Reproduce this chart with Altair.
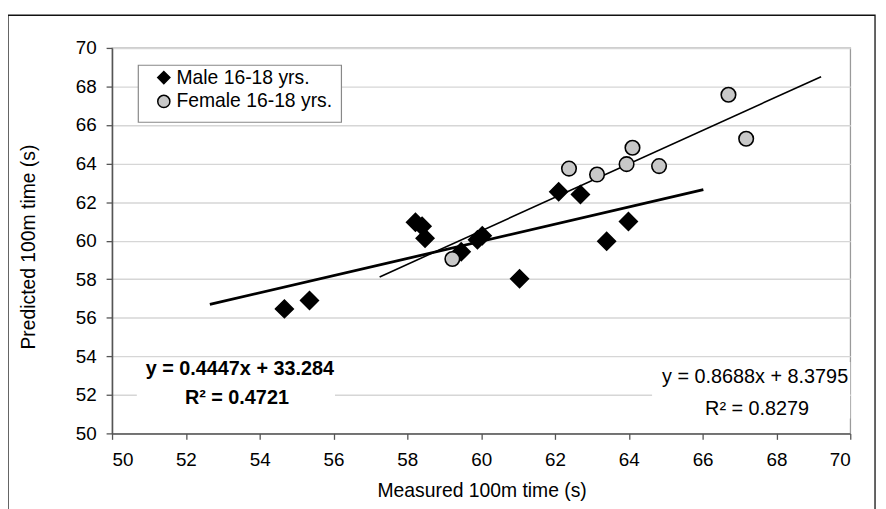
import altair as alt
import pandas as pd

male_label = "Male 16-18 yrs."
female_label = "Female 16-18 yrs."
series_names = [male_label, female_label]

male_x = [54.67, 55.35, 58.22, 58.40, 58.48, 59.46, 59.90, 60.03, 61.04, 62.10, 62.69, 63.40, 63.99]
male_y = [56.46, 56.90, 60.95, 60.75, 60.12, 59.42, 60.05, 60.25, 58.02, 62.54, 62.40, 59.97, 60.99]
female_x = [59.22, 62.38, 63.14, 63.94, 64.10, 64.82, 66.70, 67.18]
female_y = [59.05, 63.74, 63.43, 63.97, 64.82, 63.87, 67.57, 65.29]

trend_slope = [0.4447, 0.8688]
trend_intercept = [33.284, 8.3795]
trend_x_start = [52.65, 57.25]
trend_x_end = [66.02, 69.21]

eq_text = ["y = 0.4447x + 33.284", "y = 0.8688x + 8.3795"]
r2_text = ["R² = 0.4721", "R² = 0.8279"]

x_ticks = [50, 52, 54, 56, 58, 60, 62, 64, 66, 68, 70]
y_ticks = [50, 52, 54, 56, 58, 60, 62, 64, 66, 68, 70]

FONT = "Liberation Sans"
W, H = 745, 389

points = pd.DataFrame({
    "x": male_x + female_x,
    "y": male_y + female_y,
    "series": [male_label] * len(male_x) + [female_label] * len(female_x),
})

trend = pd.DataFrame({
    "series": [s for s in series_names for _ in range(2)],
    "x": [v for pair in zip(trend_x_start, trend_x_end) for v in pair],
    "slope": [s for s in trend_slope for _ in range(2)],
    "intercept": [b for b in trend_intercept for _ in range(2)],
})

x_enc = alt.X("x:Q", scale=alt.Scale(domain=[50, 70], nice=False, zero=False),
              axis=alt.Axis(values=x_ticks, title="Measured 100m time (s)", grid=False,
                            labelPadding=20, labelBaseline="middle",
                            titleX=373, titleY=58, titleBaseline="middle"))
y_enc = alt.Y("y:Q", scale=alt.Scale(domain=[50, 70], nice=False, zero=False),
              axis=alt.Axis(values=y_ticks, title="Predicted 100m time (s)", grid=True,
                            labelPadding=10, titleX=-84, titleY=H / 2 + 6,
                            titleBaseline="middle", titleAngle=-90))

one = pd.DataFrame({"k": [0]})

frame = alt.Chart(one).mark_rect(fillOpacity=0, stroke="#111111", strokeWidth=1.3).encode(
    x=alt.value(-105), x2=alt.value(770), y=alt.value(-33), y2=alt.value(480))

legend_box = alt.Chart(one).mark_rect(fill="white", stroke="#888888", strokeWidth=1.2).encode(
    x=alt.value(26.5), x2=alt.value(231.5), y=alt.value(17.5), y2=alt.value(75))

box_m = alt.Chart(one).mark_rect(fill="white").encode(
    x=alt.value(25), x2=alt.value(225), y=alt.value(315), y2=alt.value(366))
box_f = alt.Chart(one).mark_rect(fill="white").encode(
    x=alt.value(545), x2=alt.value(745), y=alt.value(317), y2=alt.value(374))

trend_base = alt.Chart(trend).transform_calculate(
    y="datum.slope * datum.x + datum.intercept"
)
line_m = trend_base.transform_filter(alt.datum.series == male_label).mark_line(
    color="black", strokeWidth=2.8).encode(x=x_enc, y=y_enc)
line_f = trend_base.transform_filter(alt.datum.series == female_label).mark_line(
    color="black", strokeWidth=1.6).encode(x=x_enc, y=y_enc)

leg = alt.Legend(title=None)

pts = alt.Chart(points).mark_point(filled=True, strokeWidth=1.6, opacity=1).encode(
    x=x_enc, y=y_enc,
    shape=alt.Shape("series:N", scale=alt.Scale(domain=series_names, range=["diamond", "circle"]),
                    legend=leg),
    fill=alt.Fill("series:N", scale=alt.Scale(domain=series_names, range=["black", "#c8c8c8"]),
                  legend=leg),
    stroke=alt.Stroke("series:N", scale=alt.Scale(domain=series_names, range=["black", "black"]),
                      legend=leg),
    size=alt.condition(alt.datum.series == male_label, alt.value(320), alt.value(215)),
)

def label(txt, px, py, bold):
    return alt.Chart(pd.DataFrame({"t": [txt]})).mark_text(
        font=FONT, fontSize=20, fontWeight="bold" if bold else "normal", color="black",
        align="center", baseline="middle").encode(x=alt.value(px), y=alt.value(py), text="t:N")

texts = [
    label(eq_text[0], 129, 324, True),
    label(r2_text[0], 126, 353, True),
    label(eq_text[1], 649, 332, False),
    label(r2_text[1], 651, 364, False),
]

chart = alt.layer(frame, legend_box, box_m, box_f, line_m, line_f, pts, *texts).properties(
    width=W, height=H,
    autosize=alt.AutoSizeParams(type="none"),
    padding={"left": 105, "top": 38, "right": 28, "bottom": 74},
).configure_view(
    stroke="#9a9a9a", strokeWidth=1.3
).configure_axis(
    labelFont=FONT, labelFontSize=19, labelColor="black",
    titleFont=FONT, titleFontSize=19.5, titleFontWeight="normal", titleColor="black",
    domainColor="#555555", domainWidth=1.5, tickColor="#555555", tickWidth=1.3, tickSize=6,
    gridColor="#d6d6d6", gridWidth=1.4,
).configure_legend(
    orient="none", legendX=42.5, legendY=20.2,
    padding=0, strokeColor="transparent",
    labelFont=FONT, labelFontSize=19.5, labelColor="black", labelLimit=400,
    symbolSize=150, symbolStrokeWidth=1.5,
    symbolOffset=0, labelOffset=3, rowPadding=3,
)

chart.save("out.html", embed_options={"renderer": "svg", "actions": False})
